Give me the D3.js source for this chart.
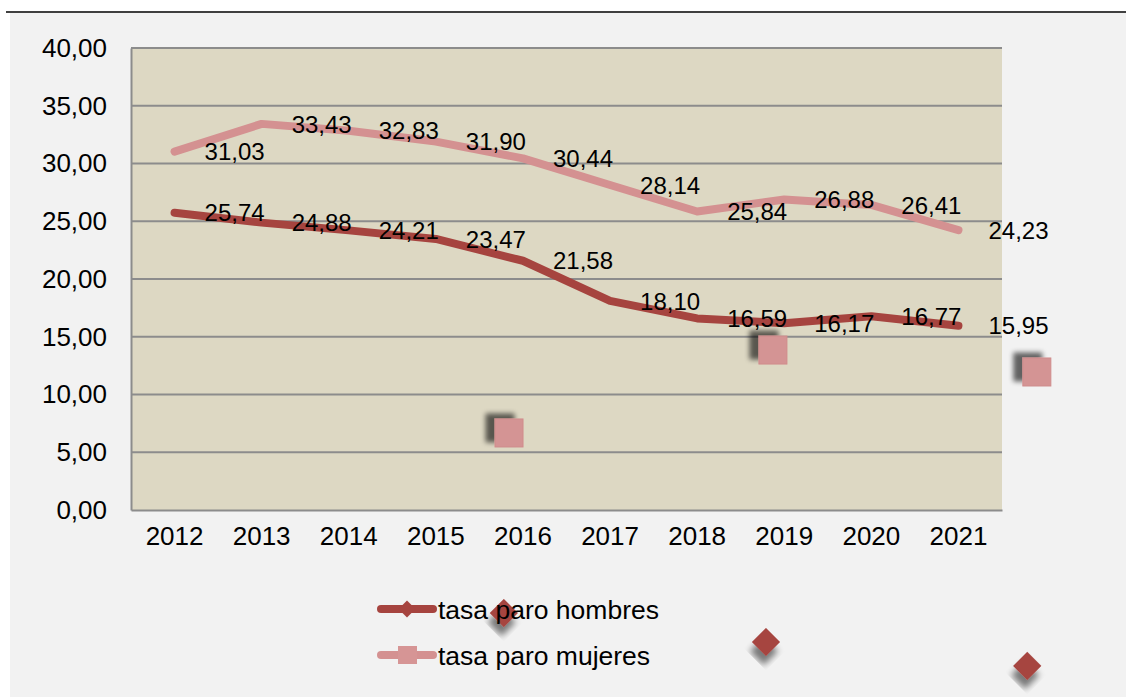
<!DOCTYPE html>
<html>
<head>
<meta charset="utf-8">
<script src="https://cdn.jsdelivr.net/npm/d3@7"></script>
<style>
  html, body { margin: 0; padding: 0; background: #ffffff; }
  svg { display: block; font-family: "Liberation Sans", Arial, sans-serif; }
</style>
</head>
<body>
<div id="chart"></div>
<script>
// data
const years = ["2012", "2013", "2014", "2015", "2016", "2017", "2018", "2019", "2020", "2021"];
const hombres = [25.74, 24.88, 24.21, 23.47, 21.58, 18.10, 16.59, 16.17, 16.77, 15.95];
const mujeres = [31.03, 33.43, 32.83, 31.90, 30.44, 28.14, 25.84, 26.88, 26.41, 24.23];
const yTicks = [0, 5, 10, 15, 20, 25, 30, 35, 40];
const seriesNames = ["tasa paro hombres", "tasa paro mujeres"];
// stray marker copies left in the picture (in category index / value units)
const straySquares = [[3.84, 6.67], [6.87, 13.85], [9.9, 11.95]];
const strayDiamonds = [[3.78, -8.92], [6.79, -11.43], [9.79, -13.5]];

const W = 1126, H = 697;
const margin = {top: 48, right: 124, bottom: 187, left: 131};
const width = W - margin.left - margin.right,
      height = H - margin.top - margin.bottom;
const colH = "#a6443f", colM = "#d49191";
const fmt = v => d3.format(".2f")(v).replace(".", ",");

const svg = d3.select("#chart").append("svg")
    .attr("width", W).attr("height", H);

const defs = svg.append("defs");
const f1 = defs.append("filter").attr("id", "shadowDiamond")
    .attr("x", "-50%").attr("y", "-50%").attr("width", "200%").attr("height", "200%");
f1.append("feGaussianBlur").attr("in", "SourceAlpha").attr("stdDeviation", 3);
f1.append("feOffset").attr("dx", 5).attr("dy", 8).attr("result", "b");
f1.append("feComponentTransfer").append("feFuncA").attr("type", "linear").attr("slope", 0.5);
const m1 = f1.append("feMerge");
m1.append("feMergeNode");
m1.append("feMergeNode").attr("in", "SourceGraphic");

const f2 = defs.append("filter").attr("id", "shadowSquare")
    .attr("x", "-60%").attr("y", "-60%").attr("width", "220%").attr("height", "220%");
f2.append("feGaussianBlur").attr("in", "SourceAlpha").attr("stdDeviation", 2.5);
f2.append("feOffset").attr("dx", -9).attr("dy", -5).attr("result", "b");
f2.append("feComponentTransfer").append("feFuncA").attr("type", "linear").attr("slope", 0.6);
const m2 = f2.append("feMerge");
m2.append("feMergeNode");
m2.append("feMergeNode").attr("in", "SourceGraphic");

// page background + top rule
svg.append("rect").attr("x", 10).attr("y", 13).attr("width", W - 10).attr("height", H - 13)
    .attr("fill", "#f2f2f2");
svg.append("line").attr("x1", 6).attr("x2", W).attr("y1", 12).attr("y2", 12)
    .attr("stroke", "#404040").attr("stroke-width", 2);

const g = svg.append("g").attr("transform", `translate(${margin.left},${margin.top})`);

const x = d3.scaleBand().domain(years).range([0, width]).padding(0);
const xi = d3.scaleLinear().domain([0, years.length - 1])
    .range([x.bandwidth() / 2, width - x.bandwidth() / 2]);
const y = d3.scaleLinear().domain([0, 40]).range([height, 0]);

g.append("rect").attr("width", width).attr("height", height).attr("fill", "#ddd8c3");

// grid
g.selectAll(".grid").data(yTicks.slice(1)).enter().append("line")
    .attr("x1", 0).attr("x2", width)
    .attr("y1", d => y(d)).attr("y2", d => y(d))
    .attr("stroke", "#8c8c8c").attr("stroke-width", 2);

// axes
const yAxis = g.append("g").call(d3.axisLeft(y).tickValues(yTicks).tickSize(0).tickPadding(24).tickFormat(fmt));
yAxis.select(".domain").attr("stroke", "#8c8c8c").attr("stroke-width", 2);
yAxis.selectAll("text").attr("font-size", 26).attr("fill", "#000")
    .attr("font-family", "Liberation Sans, Arial, sans-serif");

const xAxis = g.append("g").attr("transform", `translate(0,${height})`)
    .call(d3.axisBottom(x).tickSize(0).tickPadding(17));
xAxis.select(".domain").attr("stroke", "#8c8c8c").attr("stroke-width", 2);
xAxis.selectAll("text").attr("font-size", 26).attr("fill", "#000")
    .attr("font-family", "Liberation Sans, Arial, sans-serif");

// lines
const line = d3.line().x((d, i) => xi(i)).y(d => y(d));
[[mujeres, colM], [hombres, colH]].forEach(([vals, c]) => {
  g.append("path").datum(vals).attr("d", line)
      .attr("fill", "none").attr("stroke", c).attr("stroke-width", 8)
      .attr("stroke-linecap", "round").attr("stroke-linejoin", "round");
});

// data labels
[mujeres, hombres].forEach(vals => {
  g.selectAll(null).data(vals).enter().append("text")
      .attr("x", (d, i) => xi(i) + 30)
      .attr("y", d => y(d))
      .attr("dy", "0.36em")
      .attr("font-size", 24)
      .attr("fill", "#000")
      .text(fmt);
});

// stray markers
g.selectAll(".sq").data(straySquares).enter().append("rect")
    .attr("x", d => xi(d[0]) - 14).attr("y", d => y(d[1]) - 14)
    .attr("width", 28).attr("height", 28)
    .attr("fill", "#d49494").attr("stroke", "#d08c8c").attr("stroke-width", 1)
    .attr("filter", "url(#shadowSquare)");
g.selectAll(".dm").data(strayDiamonds).enter().append("path")
    .attr("transform", d => `translate(${xi(d[0])},${y(d[1])}) rotate(45)`)
    .attr("d", "M-10,-10H10V10H-10Z")
    .attr("fill", "#a6443f")
    .attr("filter", "url(#shadowDiamond)");

// legend
const legend = svg.append("g").attr("transform", "translate(377,609)");
seriesNames.forEach((name, i) => {
  const c = i === 0 ? colH : colM;
  const row = legend.append("g").attr("transform", `translate(0,${i * 46})`);
  row.append("line").attr("x1", 4).attr("x2", 56).attr("y1", 0).attr("y2", 0)
      .attr("stroke", c).attr("stroke-width", 8).attr("stroke-linecap", "round");
  if (i === 0) {
    row.append("path").attr("transform", "translate(30,0) rotate(45)")
        .attr("d", "M-6,-6H6V6H-6Z").attr("fill", c);
  } else {
    row.append("rect").attr("x", 21).attr("y", -9).attr("width", 19).attr("height", 18)
        .attr("fill", "#d69595");
  }
  row.append("text").attr("x", 61).attr("y", 0).attr("dy", "0.36em")
      .attr("font-size", 26.5).attr("fill", "#000").text(name);
});
</script>
</body>
</html>
